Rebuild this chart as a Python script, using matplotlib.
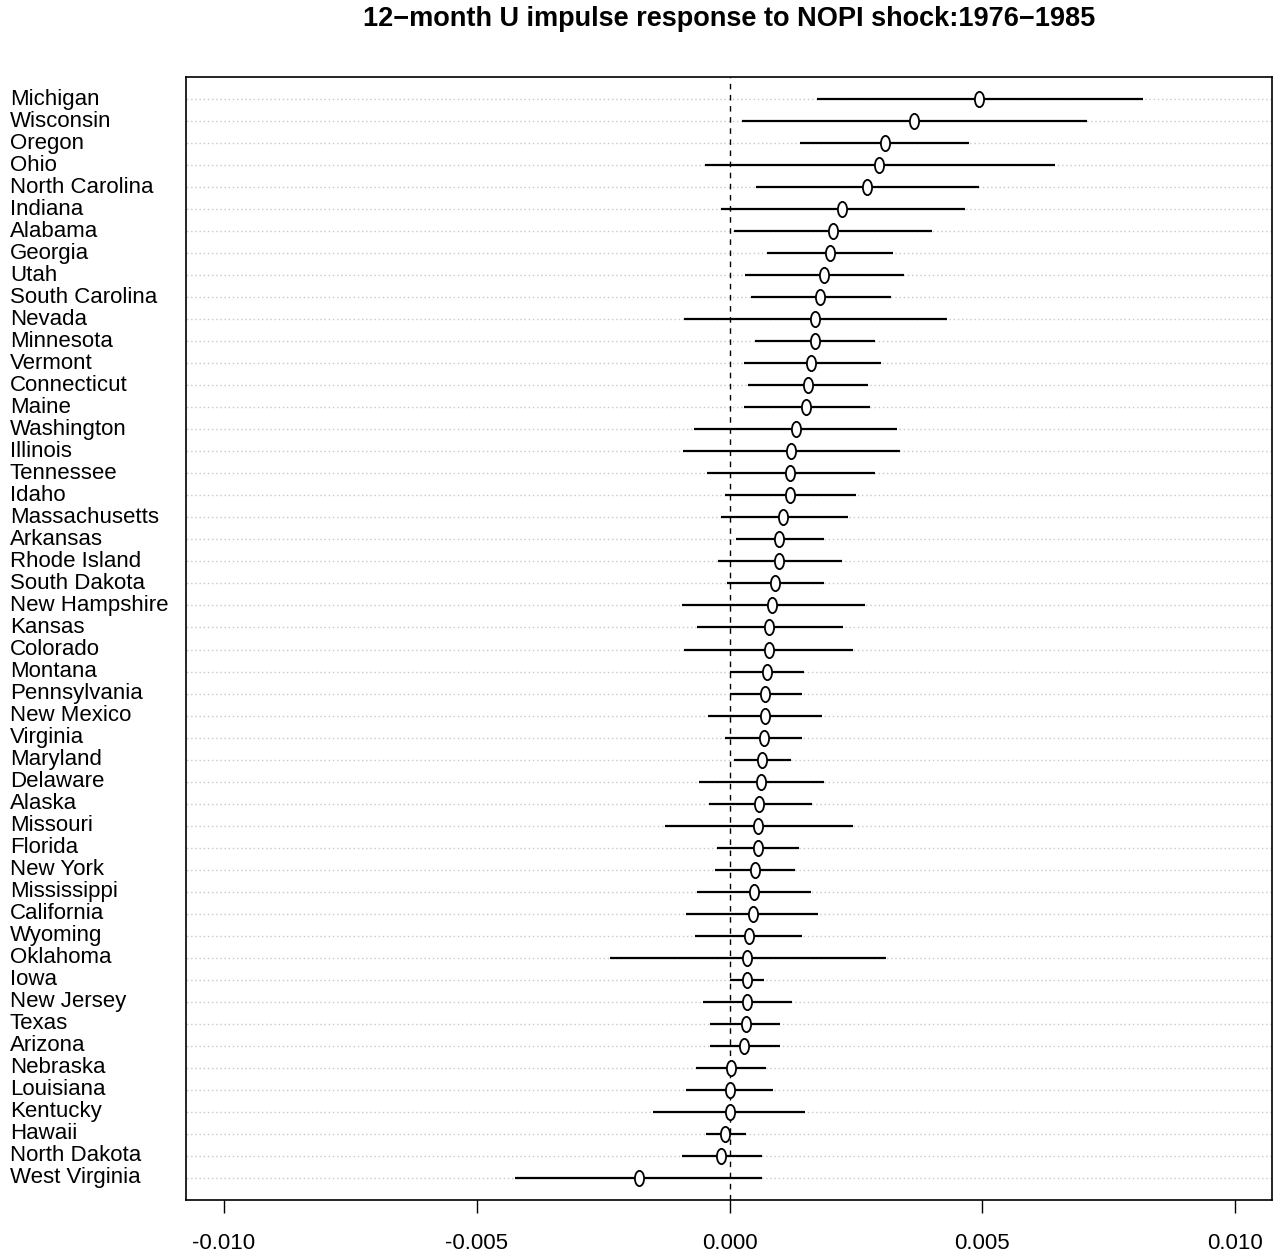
import matplotlib.pyplot as plt
import numpy as np
from matplotlib.path import Path
from matplotlib.transforms import Affine2D, blended_transform_factory

plt.rcParams['font.family'] = ['Liberation Sans', 'DejaVu Sans']

# states, top to bottom
states = ['Michigan', 'Wisconsin', 'Oregon', 'Ohio', 'North Carolina', 'Indiana',
          'Alabama', 'Georgia', 'Utah', 'South Carolina', 'Nevada', 'Minnesota',
          'Vermont', 'Connecticut', 'Maine', 'Washington', 'Illinois', 'Tennessee',
          'Idaho', 'Massachusetts', 'Arkansas', 'Rhode Island', 'South Dakota',
          'New Hampshire', 'Kansas', 'Colorado', 'Montana', 'Pennsylvania',
          'New Mexico', 'Virginia', 'Maryland', 'Delaware', 'Alaska', 'Missouri',
          'Florida', 'New York', 'Mississippi', 'California', 'Wyoming', 'Oklahoma',
          'Iowa', 'New Jersey', 'Texas', 'Arizona', 'Nebraska', 'Louisiana',
          'Kentucky', 'Hawaii', 'North Dakota', 'West Virginia']

response = [0.00494, 0.00365, 0.00307, 0.00296, 0.00272, 0.00223, 0.00205, 0.00199,
            0.00187, 0.00179, 0.00169, 0.00169, 0.00161, 0.00155, 0.00151, 0.00131,
            0.00122, 0.00120, 0.00120, 0.00106, 0.00098, 0.00098, 0.00090, 0.00084,
            0.00078, 0.00078, 0.00074, 0.00070, 0.00070, 0.00068, 0.00064, 0.00062,
            0.00058, 0.00056, 0.00056, 0.00050, 0.00048, 0.00046, 0.00039, 0.00035,
            0.00035, 0.00035, 0.00033, 0.00029, 0.00003, 0.00001, 0.00000, -0.00009,
            -0.00017, -0.00179]

lower = [0.00173, 0.00025, 0.00139, -0.00048, 0.00052, -0.00017, 0.00009, 0.00074,
         0.00031, 0.00043, -0.00090, 0.00050, 0.00029, 0.00036, 0.00029, -0.00070,
         -0.00092, -0.00045, -0.00009, -0.00017, 0.00013, -0.00023, -0.00005, -0.00094,
         -0.00064, -0.00090, 0.00001, 0.00000, -0.00043, -0.00009, 0.00009, -0.00060,
         -0.00041, -0.00128, -0.00025, -0.00029, -0.00064, -0.00086, -0.00068, -0.00237,
         0.00000, -0.00052, -0.00039, -0.00039, -0.00066, -0.00086, -0.00151, -0.00047,
         -0.00094, -0.00424]

upper = [0.00818, 0.00707, 0.00474, 0.00644, 0.00494, 0.00466, 0.00401, 0.00323,
         0.00345, 0.00319, 0.00430, 0.00288, 0.00300, 0.00274, 0.00278, 0.00331,
         0.00337, 0.00288, 0.00250, 0.00235, 0.00187, 0.00223, 0.00187, 0.00268,
         0.00225, 0.00244, 0.00147, 0.00143, 0.00183, 0.00143, 0.00121, 0.00187,
         0.00163, 0.00244, 0.00137, 0.00129, 0.00161, 0.00175, 0.00143, 0.00310,
         0.00068, 0.00123, 0.00100, 0.00100, 0.00072, 0.00086, 0.00150, 0.00033,
         0.00064, 0.00064]

xticks = [-0.010, -0.005, 0.000, 0.005, 0.010]

n = len(states)
y = np.arange(n, 0, -1)

fig = plt.figure(figsize=(12.76, 12.58), dpi=100)
ax = fig.add_axes([186 / 1276, 1 - 1200 / 1258, 1086 / 1276, 1123 / 1258])

ax.hlines(y, -0.02, 0.02, colors='#c8c8c8', linestyles=(0, (1, 2)), linewidth=1)
ax.hlines(y, lower, upper, colors='black', linewidth=1.6)
ax.axvline(0, color='black', linestyle=(0, (4, 4)), linewidth=1)

# R-like open circle, a bit squeezed
circ = Path.unit_circle().transformed(Affine2D().scale(0.6, 1.0))
ax.plot(response, y, linestyle='none', marker=circ, markersize=11,
        markerfacecolor='white', markeredgecolor='black', markeredgewidth=1.3)

ax.set_xlim(-0.01075, 0.01073)
ax.set_ylim(0, n + 1)
ax.set_yticks([])
ax.set_xticks(xticks)
ax.set_xticklabels([f'{t:.3f}' for t in xticks], fontsize=16)
ax.tick_params(axis='x', length=9, width=1, pad=15)
for s in ax.spines.values():
    s.set_linewidth(1.2)

trans = blended_transform_factory(fig.transFigure, ax.transData)
for name, yy in zip(states, y):
    ax.text(10 / 1276, yy, name, transform=trans, ha='left', va='center',
            fontsize=16, clip_on=False)

fig.text(729 / 1276, 1 - 19 / 1258, '12\u2212month U impulse response to NOPI shock:1976\u22121985',
         ha='center', va='center', fontsize=19.5, fontweight='bold')

fig.savefig('out.png', dpi=100)
